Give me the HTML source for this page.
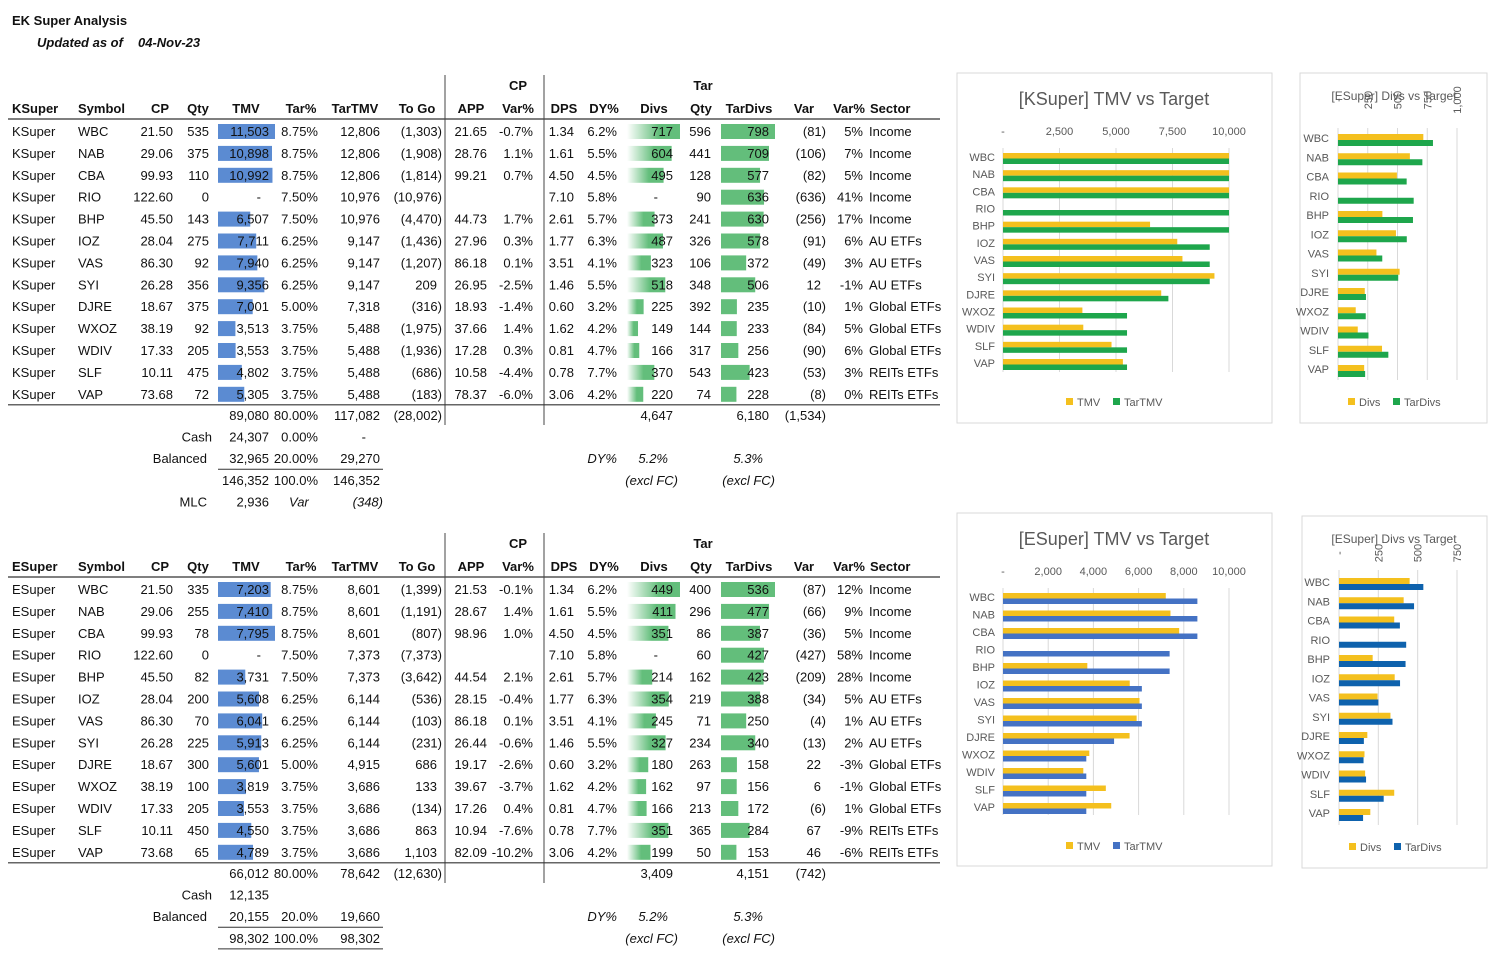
<!DOCTYPE html>
<html><head><meta charset="utf-8">
<style>
html,body{margin:0;padding:0;background:#fff;}
svg{display:block;}
text{font-family:"Liberation Sans",sans-serif;}
.t{font-size:13px;fill:#111;}
.h{font-size:13px;font-weight:bold;fill:#111;}
.c{fill:#595959;}
</style></head>
<body>
<svg id="page" width="1500" height="955" viewBox="0 0 1500 955" xmlns="http://www.w3.org/2000/svg">
<text x="12" y="25" class="h">EK Super Analysis</text>
<text x="37" y="47" class="h" font-style="italic">Updated as of</text>
<text x="138" y="47" class="h" font-style="italic">04-Nov-23</text>
</svg>
<script>
// ---------- chart data ----------
const cats = ["WBC","NAB","CBA","RIO","BHP","IOZ","VAS","SYI","DJRE","WXOZ","WDIV","SLF","VAP"];
const kTMV = [11503,10898,10992,0,6507,7711,7940,9356,7001,3513,3553,4802,5305];
const kTarTMV = [12806,12806,12806,10976,10976,9147,9147,9147,7318,5488,5488,5488,5488];
const kDivs = [717,604,495,0,373,487,323,518,225,149,166,370,220];
const kTarDivs = [798,709,577,636,630,578,372,506,235,233,256,423,228];
const eTMV = [7203,7410,7795,0,3731,5608,6041,5913,5601,3819,3553,4550,4789];
const eTarTMV = [8601,8601,8601,7373,7373,6144,6144,6144,4915,3686,3686,3686,3686];
const eDivs = [449,411,351,0,214,354,245,327,180,162,166,351,199];
const eTarDivs = [536,477,387,427,423,388,250,340,158,156,172,284,153];
const tmvTicksK = [0,2500,5000,7500,10000];
const tmvTicksE = [0,2000,4000,6000,8000,10000];
const divTicksK = [0,250,500,750,1000];
const divTicksE = [0,250,500,750];

// ---------- table data (text) ----------
const kRows = [
["WBC","21.50","535","11,503","8.75%","12,806","(1,303)","21.65","-0.7%","1.34","6.2%","717","596","798","(81)","5%","Income"],
["NAB","29.06","375","10,898","8.75%","12,806","(1,908)","28.76","1.1%","1.61","5.5%","604","441","709","(106)","7%","Income"],
["CBA","99.93","110","10,992","8.75%","12,806","(1,814)","99.21","0.7%","4.50","4.5%","495","128","577","(82)","5%","Income"],
["RIO","122.60","0","-","7.50%","10,976","(10,976)","","","7.10","5.8%","-","90","636","(636)","41%","Income"],
["BHP","45.50","143","6,507","7.50%","10,976","(4,470)","44.73","1.7%","2.61","5.7%","373","241","630","(256)","17%","Income"],
["IOZ","28.04","275","7,711","6.25%","9,147","(1,436)","27.96","0.3%","1.77","6.3%","487","326","578","(91)","6%","AU ETFs"],
["VAS","86.30","92","7,940","6.25%","9,147","(1,207)","86.18","0.1%","3.51","4.1%","323","106","372","(49)","3%","AU ETFs"],
["SYI","26.28","356","9,356","6.25%","9,147","209","26.95","-2.5%","1.46","5.5%","518","348","506","12","-1%","AU ETFs"],
["DJRE","18.67","375","7,001","5.00%","7,318","(316)","18.93","-1.4%","0.60","3.2%","225","392","235","(10)","1%","Global ETFs"],
["WXOZ","38.19","92","3,513","3.75%","5,488","(1,975)","37.66","1.4%","1.62","4.2%","149","144","233","(84)","5%","Global ETFs"],
["WDIV","17.33","205","3,553","3.75%","5,488","(1,936)","17.28","0.3%","0.81","4.7%","166","317","256","(90)","6%","Global ETFs"],
["SLF","10.11","475","4,802","3.75%","5,488","(686)","10.58","-4.4%","0.78","7.7%","370","543","423","(53)","3%","REITs ETFs"],
["VAP","73.68","72","5,305","3.75%","5,488","(183)","78.37","-6.0%","3.06","4.2%","220","74","228","(8)","0%","REITs ETFs"]];
const eRows = [
["WBC","21.50","335","7,203","8.75%","8,601","(1,399)","21.53","-0.1%","1.34","6.2%","449","400","536","(87)","12%","Income"],
["NAB","29.06","255","7,410","8.75%","8,601","(1,191)","28.67","1.4%","1.61","5.5%","411","296","477","(66)","9%","Income"],
["CBA","99.93","78","7,795","8.75%","8,601","(807)","98.96","1.0%","4.50","4.5%","351","86","387","(36)","5%","Income"],
["RIO","122.60","0","-","7.50%","7,373","(7,373)","","","7.10","5.8%","-","60","427","(427)","58%","Income"],
["BHP","45.50","82","3,731","7.50%","7,373","(3,642)","44.54","2.1%","2.61","5.7%","214","162","423","(209)","28%","Income"],
["IOZ","28.04","200","5,608","6.25%","6,144","(536)","28.15","-0.4%","1.77","6.3%","354","219","388","(34)","5%","AU ETFs"],
["VAS","86.30","70","6,041","6.25%","6,144","(103)","86.18","0.1%","3.51","4.1%","245","71","250","(4)","1%","AU ETFs"],
["SYI","26.28","225","5,913","6.25%","6,144","(231)","26.44","-0.6%","1.46","5.5%","327","234","340","(13)","2%","AU ETFs"],
["DJRE","18.67","300","5,601","5.00%","4,915","686","19.17","-2.6%","0.60","3.2%","180","263","158","22","-3%","Global ETFs"],
["WXOZ","38.19","100","3,819","3.75%","3,686","133","39.67","-3.7%","1.62","4.2%","162","97","156","6","-1%","Global ETFs"],
["WDIV","17.33","205","3,553","3.75%","3,686","(134)","17.26","0.4%","0.81","4.7%","166","213","172","(6)","1%","Global ETFs"],
["SLF","10.11","450","4,550","3.75%","3,686","863","10.94","-7.6%","0.78","7.7%","351","365","284","67","-9%","REITs ETFs"],
["VAP","73.68","65","4,789","3.75%","3,686","1,103","82.09","-10.2%","3.06","4.2%","199","50","153","46","-6%","REITs ETFs"]];

const NS="http://www.w3.org/2000/svg";
const svg=document.getElementById('page');
function mk(tag,attrs,parent){const e=document.createElementNS(NS,tag);for(const k in attrs)e.setAttribute(k,attrs[k]);(parent||svg).appendChild(e);return e;}
function txt(x,y,s,anchor,cls,extra,parent){const e=mk('text',Object.assign({x:x,y:y,'text-anchor':anchor||'start','class':cls||'t'},extra||{}),parent);e.textContent=s;return e;}

const defs=mk('defs',{});
const gr=mk('linearGradient',{id:'gdiv',x1:'0',x2:'1',y1:'0',y2:'0'},defs);
mk('stop',{offset:'0','stop-color':'#ffffff'},gr);
mk('stop',{offset:'0.6','stop-color':'#63be7b'},gr);

const colX=[[78,'start'],[173,'end'],[209,'end'],[269,'end'],[318,'end'],[380,'end'],[442,'end'],[487,'end'],[533,'end'],[574,'end'],[617,'end'],[673,'end'],[711,'end'],[769,'end'],[826,'end'],[863,'end'],[869,'start']];

function table(top, label, rows, tmv, divs, tarDivs, totals){
  const g=mk('g',{});
  
  
  const hy=top+38;
  txt(518,top+15,'CP','middle','h',{},g);
  txt(703,top+15,'Tar','middle','h',{},g);
  const heads=[[12,'start',label],[78,'start','Symbol'],[160,'middle','CP'],[198,'middle','Qty'],[246,'middle','TMV'],[301,'middle','Tar%'],[355,'middle','TarTMV'],[417,'middle','To Go'],[471,'middle','APP'],[518,'middle','Var%'],[564,'middle','DPS'],[604,'middle','DY%'],[654,'middle','Divs'],[701,'middle','Qty'],[749,'middle','TarDivs'],[804,'middle','Var'],[849,'middle','Var%'],[870,'start','Sector']];
  heads.forEach(h=>txt(h[0],hy,h[2],h[1],'h',{},g));
  mk('line',{x1:8,x2:940,y1:top+44,y2:top+44,stroke:'#333','stroke-width':1.2},g);
  mk('line',{x1:445,x2:445,y1:top,y2:top+350,stroke:'#444','stroke-width':1},g);
  mk('line',{x1:544,x2:544,y1:top,y2:top+350,stroke:'#444','stroke-width':1},g);
  const r0=top+56, rh=21.9;
  const mT=Math.max(...tmv), mD=Math.max(...divs), mTD=Math.max(...tarDivs);
  rows.forEach((r,i)=>{
    const cy=r0+i*rh, by=cy+5;
    if(tmv[i]>0){const b=mk('rect',{x:218,y:cy-7,width:57*tmv[i]/mT,height:15,fill:'#5b8bd2'},g);
      
      }
    if(divs[i]>0){const b=mk('rect',{x:627,y:cy-7,width:53*divs[i]/mD,height:15,fill:'url(#gdiv)'},g);
      
      }
    {const b=mk('rect',{x:721,y:cy-7,width:54*tarDivs[i]/mTD,height:15,fill:'#63be7b'},g);
      
      }
    txt(12,by,label,'start','t',{},g);
    r.forEach((v,j)=>{
      let [x,a]=colX[j];
      if((j===6||j===14)&&v&&v[0]!=='(') x-=5;
      if(j===3&&v==='-') x-=8;
      if(j===11&&v==='-') x-=15;
      txt(x,by,v,a,'t',{},g);
    });
  });
  const ly=r0+12*rh+11;
  mk('line',{x1:8,x2:940,y1:ly,y2:ly,stroke:'#333','stroke-width':1.2},g);
  const T=totals, b1=ly+15, s=21.7;
  [[269,T.tmv],[318,T.pct],[380,T.tar],[442,T.go],[673,T.divs],[769,T.tdivs],[826,T.var]].forEach(c=>txt(c[0],b1,c[1],'end','t',{},g));
  txt(212,b1+s,'Cash','end','t',{},g); txt(269,b1+s,T.cash,'end','t',{},g);
  if(T.cashPct){txt(318,b1+s,T.cashPct,'end','t',{},g);txt(366,b1+s,'-','end','t',{},g);}
  txt(207,b1+2*s,'Balanced','end','t',{},g);
  txt(269,b1+2*s,T.bal,'end','t',{},g);txt(318,b1+2*s,T.balPct,'end','t',{},g);txt(380,b1+2*s,T.balTar,'end','t',{},g);
  txt(617,b1+2*s,'DY%','end','t',{'font-style':'italic'},g);
  txt(668,b1+2*s,'5.2%','end','t',{'font-style':'italic'},g);
  txt(763,b1+2*s,'5.3%','end','t',{'font-style':'italic'},g);
  mk('line',{x1:218,x2:383,y1:b1+2*s+6,y2:b1+2*s+6,stroke:'#333','stroke-width':1},g);
  txt(269,b1+3*s,T.sum,'end','t',{},g);txt(318,b1+3*s,'100.0%','end','t',{},g);txt(380,b1+3*s,T.sum,'end','t',{},g);
  txt(678,b1+3*s,'(excl FC)','end','t',{'font-style':'italic'},g);
  txt(775,b1+3*s,'(excl FC)','end','t',{'font-style':'italic'},g);
  if(T.mlc){
    txt(207,b1+4*s,'MLC','end','t',{},g);txt(269,b1+4*s,T.mlc,'end','t',{},g);
    txt(289,b1+4*s,'Var','start','t',{'font-style':'italic'},g);txt(383,b1+4*s,'(348)','end','t',{'font-style':'italic'},g);
  } else {
    mk('line',{x1:218,x2:383,y1:b1+3*s+6,y2:b1+3*s+6,stroke:'#333','stroke-width':1},g);
  }
}
table(75,'KSuper',kRows,kTMV,kDivs,kTarDivs,{tmv:'89,080',pct:'80.00%',tar:'117,082',go:'(28,002)',divs:'4,647',tdivs:'6,180',var:'(1,534)',cash:'24,307',cashPct:'0.00%',bal:'32,965',balPct:'20.00%',balTar:'29,270',sum:'146,352',mlc:'2,936'});
table(533,'ESuper',eRows,eTMV,eDivs,eTarDivs,{tmv:'66,012',pct:'80.00%',tar:'78,642',go:'(12,630)',divs:'3,409',tdivs:'4,151',var:'(742)',cash:'12,135',cashPct:'',bal:'20,155',balPct:'20.0%',balTar:'19,660',sum:'98,302',mlc:''});

function fmt(v){return v===0?'-':v.toLocaleString('en-US');}
function chart(o){
  const g=mk('g',{});
  
  
  mk('rect',{x:o.box[0],y:o.box[1],width:o.box[2],height:o.box[3],fill:'#fff',stroke:'#d9d9d9'},g);
  const t=txt(o.titleX,o.titleY,o.title,'middle','c',{'font-size':o.titleSize},g);
  
  
  const sx=v=>o.x0+(Math.min(v,o.max)/o.max)*(o.x1-o.x0);
  o.ticks.forEach(v=>{
    const x=sx(v);
    mk('line',{x1:x,x2:x,y1:o.gy0,y2:o.gy1,stroke:'#d9d9d9'},g);
    if(o.rot){txt(x+4,o.tickY,fmt(v),'middle','c',{'font-size':11,transform:`rotate(-90 ${x+4} ${o.tickY})`},g);}
    else txt(x,o.tickY,fmt(v),'middle','c',{'font-size':11},g);
  });
  const step=(o.yN-o.y0)/(cats.length-1);
  cats.forEach((c,i)=>{
    const cy=o.y0+i*step;
    txt(o.labX,cy+4,c,'end','c',{'font-size':11},g);
    if(o.a[i]>0){const r=mk('rect',{x:o.x0,y:cy-4,width:sx(o.a[i])-o.x0,height:o.bh,fill:o.ca},g);
      
      }
    const r2=mk('rect',{x:o.x0,y:cy-4+o.bh,width:sx(o.b[i])-o.x0,height:o.bh,fill:o.cb},g);
    
    
  });
  const lg=mk('g',{},g);
  
  
  mk('rect',{x:o.legX,y:o.legY-9,width:7,height:7,fill:o.ca},lg);
  txt(o.legX+11,o.legY-1,o.la,'start','c',{'font-size':11},lg);
  mk('rect',{x:o.legX2,y:o.legY-9,width:7,height:7,fill:o.cb},lg);
  txt(o.legX2+11,o.legY-1,o.lb,'start','c',{'font-size':11},lg);
}
chart({name:'ksuper-tmv-chart',box:[957,73,315,350],title:'[KSuper] TMV vs Target',titleX:1114,titleY:105,titleSize:18,
  x0:1003,x1:1229,max:10000,ticks:tmvTicksK,tickY:135,gy0:148,gy1:372,y0:157,yN:363,labX:995,bh:5.5,
  a:kTMV,b:kTarTMV,ca:'#f4c01e',cb:'#1ea64c',la:'TMV',lb:'TarTMV',legX:1066,legX2:1113,legY:407});
chart({name:'ksuper-divs-chart',box:[1300,73,187,350],title:'[ESuper] Divs vs Target',titleX:1394,titleY:100,titleSize:12,rot:true,
  x0:1338,x1:1457,max:1000,ticks:divTicksK,tickY:100,gy0:128,gy1:380,y0:138,yN:369,labX:1329,bh:6,
  a:kDivs,b:kTarDivs,ca:'#f4c01e',cb:'#1ea64c',la:'Divs',lb:'TarDivs',legX:1348,legX2:1393,legY:407});
chart({name:'esuper-tmv-chart',box:[957,513,315,353],title:'[ESuper] TMV vs Target',titleX:1114,titleY:545,titleSize:18,
  x0:1003,x1:1229,max:10000,ticks:tmvTicksE,tickY:575,gy0:588,gy1:815,y0:597,yN:807,labX:995,bh:5.5,
  a:eTMV,b:eTarTMV,ca:'#f4c01e',cb:'#4472c4',la:'TMV',lb:'TarTMV',legX:1066,legX2:1113,legY:851});
chart({name:'esuper-divs-chart',box:[1302,516,185,352],title:'[ESuper] Divs vs Target',titleX:1394,titleY:543,titleSize:12,rot:true,
  x0:1339,x1:1457,max:750,ticks:divTicksE,tickY:553,gy0:570,gy1:825,y0:582,yN:813,labX:1330,bh:6,
  a:eDivs,b:eTarDivs,ca:'#f4c01e',cb:'#0e62ad',la:'Divs',lb:'TarDivs',legX:1349,legX2:1394,legY:852});
</script>
</body></html>
